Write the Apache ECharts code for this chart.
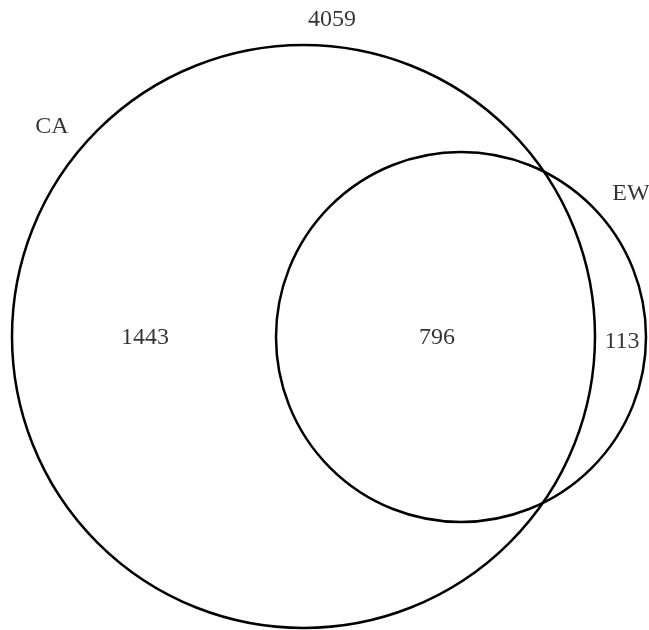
<!DOCTYPE html>
<html>
<head>
<meta charset="utf-8">
<script src="https://cdn.jsdelivr.net/npm/echarts@6/dist/echarts.min.js"></script>
<style>
html,body{margin:0;padding:0;background:#fff;}
#main{width:649px;height:630px;}
</style>
</head>
<body>
<div id="main"></div>
<script>
// Sets and their circles (data units)
var setNames = ['CA', 'EW'];
var circleCX = [303.5, 461];
var circleCY = [336.5, 337];
var circleR = [291.5, 185];

// Text labels: set names and region counts
var labelTexts = ['4059', 'CA', 'EW', '1443', '796', '113'];
var labelX = [332, 52, 631, 145, 437, 622];
var labelY = [20, 127, 194, 338, 338, 342];

var circleData = setNames.map(function (n, i) {
  return { name: n, value: [circleCX[i], circleCY[i], circleR[i]] };
});
var labelData = labelTexts.map(function (t, i) {
  return { name: t, value: [labelX[i], labelY[i]] };
});

var chart = echarts.init(document.getElementById('main'), null, { renderer: 'canvas' });
chart.setOption({
  backgroundColor: '#ffffff',
  animation: false,
  grid: { left: 0, right: 0, top: 0, bottom: 0 },
  xAxis: { type: 'value', min: 0, max: 649, show: false },
  yAxis: { type: 'value', min: 0, max: 630, inverse: true, show: false },
  series: [
    {
      type: 'custom',
      data: circleData,
      clip: false,
      renderItem: function (params, api) {
        var c = api.coord([api.value(0), api.value(1)]);
        var r = api.size([api.value(2), 0])[0];
        return {
          type: 'circle',
          shape: { cx: c[0], cy: c[1], r: r },
          style: { fill: 'none', stroke: '#000', lineWidth: 2.5 }
        };
      }
    },
    {
      type: 'scatter',
      data: labelData,
      symbolSize: 0,
      silent: true,
      label: {
        show: true,
        position: 'inside',
        formatter: '{b}',
        color: '#000',
        fontFamily: 'Liberation Serif',
        fontSize: 24
      }
    }
  ]
});
</script>
</body>
</html>
